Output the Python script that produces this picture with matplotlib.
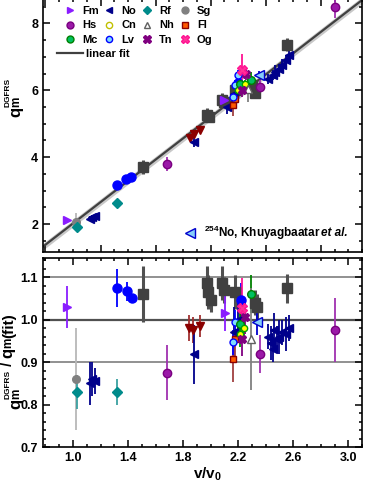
import numpy as np
import matplotlib
matplotlib.use("Agg")
from matplotlib import pyplot as plt
from matplotlib.lines import Line2D
from matplotlib.ticker import MultipleLocator

plt.rcParams['font.family'] = ['Liberation Sans', 'DejaVu Sans']
plt.rcParams['font.weight'] = 'bold'
plt.rcParams['mathtext.fontset'] = 'custom'
plt.rcParams['mathtext.rm'] = 'Liberation Sans:bold'
plt.rcParams['mathtext.it'] = 'Liberation Sans:bold'
plt.rcParams['mathtext.bf'] = 'Liberation Sans:bold'

# linear fit q = a*v + b
fit_a, fit_b = 3.18, -1.16

# top panel: v/v0, q_m, err ; bottom panel: v/v0, ratio, err
fm_top_v = [0.956, 2.10];  fm_top_q = [2.12, 5.72];  fm_top_e = [0.05, 0.1]
fm_bot_v = [0.956, 2.105]; fm_bot_r = [1.03, 1.016]; fm_bot_e = [0.05, 0.042]

no_top_v = [1.12, 1.14, 1.16, 1.88, 2.12, 2.17, 2.42, 2.45, 2.47, 2.50, 2.52, 2.55, 2.57]
no_top_q = [2.16, 2.20, 2.24, 4.45, 5.50, 5.90, 6.35, 6.45, 6.55, 6.65, 6.75, 6.90, 7.05]
no_top_e = [0.08, 0.08, 0.06, 0.15, 0.2, 0.2, 0.15, 0.15, 0.2, 0.15, 0.2, 0.15, 0.2]
no_bot_v = [1.12, 1.14, 1.16, 1.88, 2.17, 2.20, 2.42, 2.44, 2.46, 2.48, 2.50, 2.52, 2.55, 2.57, 2.45]
no_bot_r = [0.85, 0.86, 0.855, 0.918, 0.97, 1.0, 0.96, 0.945, 0.975, 0.955, 0.96, 0.97, 0.965, 0.98, 0.93]
no_bot_e = [0.05, 0.04, 0.03, 0.07, 0.06, 0.05, 0.03, 0.04, 0.04, 0.03, 0.04, 0.03, 0.04, 0.03, 0.03]

rf_top_v = [1.03, 1.32]; rf_top_q = [1.91, 2.63]; rf_top_e = [0.05, 0.05]
rf_bot_v = [1.03, 1.32]; rf_bot_r = [0.83, 0.83]; rf_bot_e = [0.04, 0.03]

sg_top_v = [1.02]; sg_top_q = [2.06]; sg_top_e = [0.27]
sg_bot_v = [1.02]; sg_bot_r = [0.86]; sg_bot_e = [0.12]

hs_top_v = [1.68, 2.36, 2.90]; hs_top_q = [3.80, 6.11, 8.50]; hs_top_e = [0.2, 0.2, 0.35]
hs_bot_v = [1.68, 2.36, 2.90]; hs_bot_r = [0.875, 0.918, 0.976]; hs_bot_e = [0.065, 0.045, 0.075]

cn_top_v = [2.20, 2.25]; cn_top_q = [6.0, 6.2]; cn_top_e = [0.1, 0.1]
cn_bot_v = [2.21, 2.24]; cn_bot_r = [0.965, 0.98]; cn_bot_e = [0.03, 0.03]

nh_top_v = [2.27]; nh_top_q = [6.05]; nh_top_e = [0.4]
nh_bot_v = [2.29]; nh_bot_r = [0.953]; nh_bot_e = [0.12]

fl_top_v = [2.16, 2.18]; fl_top_q = [5.57, 5.75]; fl_top_e = [0.35, 0.2]
fl_bot_v = [2.16, 2.18]; fl_bot_r = [0.908, 0.953]; fl_bot_e = [0.055, 0.04]

mc_top_v = [2.21, 2.29]; mc_top_q = [6.2, 6.3]; mc_top_e = [0.15, 0.25]
mc_bot_v = [2.21, 2.29]; mc_bot_r = [0.99, 1.06]; mc_bot_e = [0.03, 0.045]

lv_top_v = [2.16, 2.18, 2.20]; lv_top_q = [5.8, 6.17, 6.47]; lv_top_e = [0.15, 0.15, 0.15]
lv_bot_v = [2.16, 2.18]; lv_bot_r = [0.946, 0.993]; lv_bot_e = [0.03, 0.03]

tn_top_v = [2.23, 2.26]; tn_top_q = [6.0, 6.5]; tn_top_e = [0.2, 0.2]
tn_bot_v = [2.23, 2.25]; tn_bot_r = [0.953, 1.005]; tn_bot_e = [0.04, 0.04]

og_top_v = [2.23]; og_top_q = [6.6]; og_top_e = [0.5]
og_bot_v = [2.23]; og_bot_r = [1.028]; og_bot_e = [0.07]

blue_top_v = [1.32, 1.385, 1.42, 2.20]; blue_top_q = [3.17, 3.35, 3.41, 6.23]; blue_top_e = [0.1, 0.05, 0.03, 0.15]
blue_bot_v = [1.32, 1.39, 1.43, 2.22]; blue_bot_r = [1.075, 1.066, 1.05, 1.047]; blue_bot_e = [0.045, 0.022, 0.01, 0.04]

gray_top_v = [1.51, 1.975, 1.99, 2.08, 2.10, 2.18, 2.30, 2.32, 2.556]
gray_top_q = [3.71, 5.27, 5.20, 5.72, 5.65, 6.00, 6.17, 5.93, 7.37]
gray_top_e = [0.2, 0.2, 0.15, 0.2, 0.15, 0.2, 0.15, 0.15, 0.2]
gray_bot_v = [1.51, 1.97, 1.98, 2.00, 2.08, 2.10, 2.18, 2.32, 2.34, 2.556]
gray_bot_r = [1.06, 1.087, 1.064, 1.047, 1.087, 1.07, 1.064, 1.04, 1.03, 1.073]
gray_bot_e = [0.065, 0.04, 0.04, 0.03, 0.04, 0.03, 0.04, 0.03, 0.03, 0.035]

red_top_v = [1.85, 1.88, 1.92]; red_top_q = [4.58, 4.70, 4.82]; red_top_e = [0.1, 0.1, 0.1]
red_bot_v = [1.84, 1.87, 1.92]; red_bot_r = [0.98, 0.975, 0.985]; red_bot_e = [0.03, 0.03, 0.025]

kh_top_v = [2.35]; kh_top_q = [6.47]; kh_top_e = [0.1]
kh_bot_v = [2.34]; kh_bot_r = [0.993]; kh_bot_e = [0.03]

W, H = 374.0, 484.0
fig = plt.figure(figsize=(3.74, 4.84), dpi=100)
ax1 = fig.add_axes([0.115, 0.479, 0.853, 0.523])
ax2 = fig.add_axes([0.115, 0.0764, 0.853, 0.3905])

xlo, xhi = 0.782, 3.10
xx = np.linspace(xlo, xhi, 50)
yy = fit_a * xx + fit_b
ax1.fill_between(xx, yy - 0.1, yy + 0.1, color='#c8c8c8', lw=0, zorder=1)
ax1.plot(xx, yy, color='#404040', lw=1.6, zorder=2)

for yv, c, w in [(1.1, '#909090', 1.4), (0.9, '#909090', 1.4), (1.0, '#505050', 1.6)]:
    ax2.axhline(yv, color=c, lw=w, zorder=1)

def draw(tv, tq, te, bv, br, be, marker, fc, ec, ecol, ms=5.5, elw=1.3):
    ax1.errorbar(tv, tq, yerr=te, fmt=marker, ms=ms, mfc=fc, mec=ec, mew=1.0,
                 ecolor=ecol, elinewidth=elw, capsize=0, zorder=3)
    ax2.errorbar(bv, br, yerr=be, fmt=marker, ms=ms, mfc=fc, mec=ec, mew=1.0,
                 ecolor=ecol, elinewidth=elw, capsize=0, zorder=3)

draw(gray_top_v, gray_top_q, gray_top_e, gray_bot_v, gray_bot_r, gray_bot_e, 's', '#404040', '#404040', '#505050', ms=6.5, elw=2.2)
draw(blue_top_v, blue_top_q, blue_top_e, blue_bot_v, blue_bot_r, blue_bot_e, 'o', '#0000ff', '#0000ff', '#0000ff', ms=6.5)
draw(red_top_v, red_top_q, red_top_e, red_bot_v, red_bot_r, red_bot_e, 'v', '#8b0000', '#8b0000', '#a03030')
draw(sg_top_v, sg_top_q, sg_top_e, sg_bot_v, sg_bot_r, sg_bot_e, 'o', '#808080', '#808080', '#b8b8b8')
draw(fm_top_v, fm_top_q, fm_top_e, fm_bot_v, fm_bot_r, fm_bot_e, '>', '#8a1cff', '#8a1cff', '#8a1cff')
draw(no_top_v, no_top_q, no_top_e, no_bot_v, no_bot_r, no_bot_e, '<', '#00008b', '#00008b', '#00008b')
draw(rf_top_v, rf_top_q, rf_top_e, rf_bot_v, rf_bot_r, rf_bot_e, 'D', '#008b8b', '#008b8b', '#3aa0a0', ms=5)
draw(hs_top_v, hs_top_q, hs_top_e, hs_bot_v, hs_bot_r, hs_bot_e, 'o', '#9b19a8', '#7a0080', '#a030b0', ms=6)
draw(fl_top_v, fl_top_q, fl_top_e, fl_bot_v, fl_bot_r, fl_bot_e, 's', '#ff5a00', '#8b0000', '#a04040', ms=5)
draw(lv_top_v, lv_top_q, lv_top_e, lv_bot_v, lv_bot_r, lv_bot_e, 'o', '#7fdcff', '#0000ff', '#0000ff', ms=5)
draw(mc_top_v, mc_top_q, mc_top_e, mc_bot_v, mc_bot_r, mc_bot_e, 'o', '#00c060', '#008000', '#008000', ms=5.5)
draw(cn_top_v, cn_top_q, cn_top_e, cn_bot_v, cn_bot_r, cn_bot_e, 'o', '#ffff00', '#00a000', '#00a000', ms=4.5)
draw(nh_top_v, nh_top_q, nh_top_e, nh_bot_v, nh_bot_r, nh_bot_e, '^', 'white', '#606060', '#808080', ms=5.5)
draw(tn_top_v, tn_top_q, tn_top_e, tn_bot_v, tn_bot_r, tn_bot_e, 'X', '#800080', '#800080', '#800080', ms=6)
draw(og_top_v, og_top_q, og_top_e, og_bot_v, og_bot_r, og_bot_e, 'X', '#ff3399', '#ff1493', '#ff1493', ms=6.5)
draw(kh_top_v, kh_top_q, kh_top_e, kh_bot_v, kh_bot_r, kh_bot_e, '<', '#87cefa', '#0000cd', '#0000cd', ms=6.5)

# legends
def h(m, fc, ec, ms=5):
    return Line2D([], [], ls='none', marker=m, ms=ms, mfc=fc, mec=ec, mew=1.0)

handles = [h('>', '#8a1cff', '#8a1cff'), h('o', '#9b19a8', '#7a0080'), h('o', '#00c060', '#008000'),
           h('<', '#00008b', '#00008b'), h('o', 'white', '#c0c000', 4.5), h('o', '#7fdcff', '#0000ff', 4.5),
           h('D', '#008b8b', '#008b8b', 4.5), h('^', 'white', '#606060'), h('X', '#800080', '#800080', 5.5),
           h('o', '#808080', '#808080'), h('s', '#ff5a00', '#8b0000', 4.5), h('X', '#ff3399', '#ff1493', 5.5)]
labels = ['Fm', 'Hs', 'Mc', 'No', 'Cn', 'Lv', 'Rf', 'Nh', 'Tn', 'Sg', 'Fl', 'Og']
leg = ax1.legend(handles, labels, ncol=4, loc='upper left', bbox_to_anchor=(0.053, 0.99), frameon=False,
                 prop={'size': 8, 'weight': 'bold'}, handlelength=1.0, handletextpad=0.6,
                 columnspacing=0.45, labelspacing=0.4, borderaxespad=0)
ax1.add_artist(leg)
ax1.legend([Line2D([], [], color='#404040', lw=1.6)], ['linear fit'], loc='upper left',
           bbox_to_anchor=(0.03, 0.822), frameon=False, prop={'size': 8, 'weight': 'bold'},
           handlelength=2.3, handletextpad=0.35, borderaxespad=0)

# Khuyagbaatar annotation
ax1.plot([0.46], [0.075], transform=ax1.transAxes, ls='none', marker='<', ms=6.5,
         mfc='#87cefa', mec='#0000cd', mew=1.0)
t1 = ax1.text(0.505, 0.075, r'$^{254}$No, Khuyagbaatar ', transform=ax1.transAxes,
              fontsize=8.5, fontweight='bold', va='center', ha='left')
ax1.annotate('et al.', xy=(1, 0.5), xycoords=t1, va='center', ha='left',
             fontsize=8.5, fontweight='bold', style='italic')

for ax in (ax1, ax2):
    ax.set_xlim(xlo, xhi)
    ax.xaxis.set_major_locator(MultipleLocator(0.4))
    ax.xaxis.set_minor_locator(MultipleLocator(0.1))
    ax.tick_params(which='both', direction='in', top=True, right=True, width=1.1, labelsize=9)
    ax.tick_params(which='major', length=5)
    ax.tick_params(which='minor', length=2.5)
    for s in ax.spines.values():
        s.set_linewidth(1.2)
    for lab in ax.get_yticklabels() + ax.get_xticklabels():
        lab.set_fontweight('bold')

ax1.set_ylim(1.16, 8.73)
ax1.yaxis.set_major_locator(MultipleLocator(2))
ax1.yaxis.set_minor_locator(MultipleLocator(0.5))
ax1.set_xticklabels([])

ax2.set_ylim(0.7, 1.1447)
ax2.yaxis.set_minor_locator(MultipleLocator(0.02))
ax2.set_yticks([0.7, 0.8, 0.9, 1.0, 1.1])
ax2.set_yticklabels(['0.7', '0.8', '0.9', '1.0', '1.1'], fontweight='bold')
ax2.set_xticks([1.0, 1.4, 1.8, 2.2, 2.6, 3.0])
ax2.set_xticklabels(['1.0', '1.4', '1.8', '2.2', '2.6', '3.0'], fontweight='bold')
ax2.set_xlabel(r'v/v$_\mathregular{0}$', fontsize=11, fontweight='bold')
ax2.xaxis.set_label_coords(0.515, -0.10)

# vertical y labels built from pieces: q, subscript m, superscript DGFRS
def vtext(s, xy, ref, size, ha):
    return ax1.annotate(s, xy=xy, xycoords=ref, rotation=90, fontsize=size, fontweight='bold',
                        ha=ha, va='bottom', annotation_clip=False)

def qlabel(x_px, y_px):
    q = fig.text(x_px / W, 1 - y_px / H, 'q', rotation=90, fontsize=12, fontweight='bold',
                 ha='center', va='bottom')
    m = vtext('m', (0.95, 1.0), q, 8.5, 'right')
    d = vtext('DGFRS', (0.18, 1.0), q, 6, 'right')
    return q, m, d

qlabel(16, 117)
q2, m2, d2 = qlabel(16, 409)
sl = vtext(' / ', (0.5, 1.0), d2, 10.5, 'center')
q3 = vtext('q', (0.5, 0.95), sl, 12, 'center')
m3 = vtext('m', (0.95, 1.0), q3, 8.5, 'right')
vtext('(fit)', (0.55, 0.97), m3, 11, 'center')

fig.savefig('out.png', dpi=100)
